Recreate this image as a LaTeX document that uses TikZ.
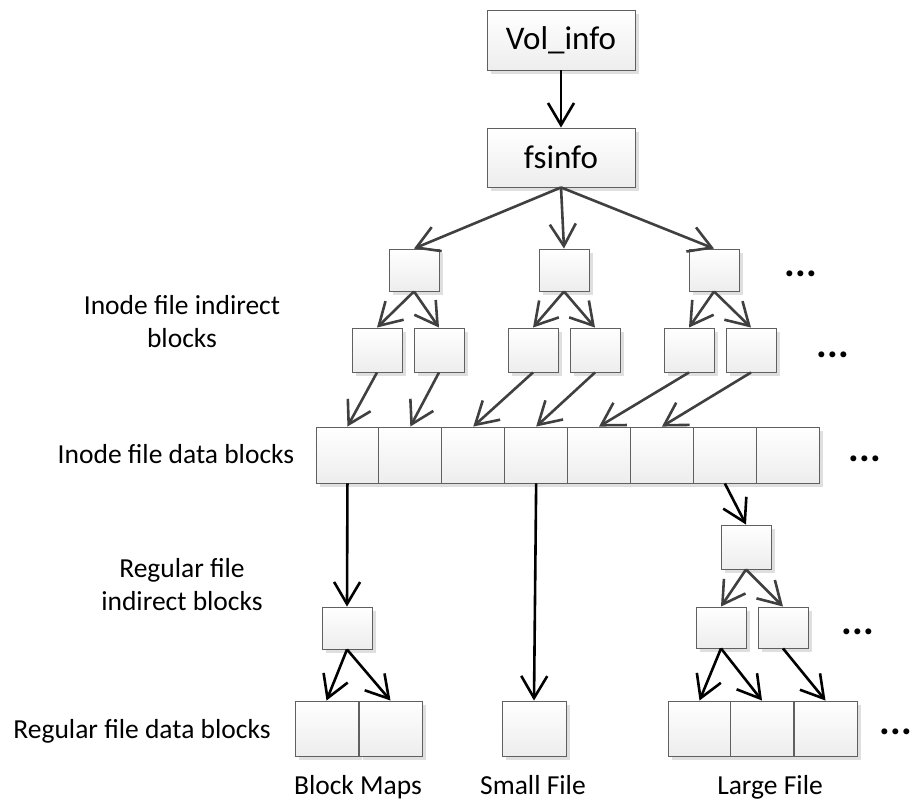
\documentclass[tikz,border=0pt]{standalone}
\usepackage{fontspec}
\setmainfont{Carlito}
\usetikzlibrary{arrows.meta,shadows}
\tikzset{
  blk/.style={draw=gray!75!black,line width=0.9pt,top color=white,bottom color=gray!14,inner sep=0pt,
    drop shadow={shadow xshift=4pt,shadow yshift=-4pt,fill=gray!25,opacity=1}},
  sblk/.style={blk,minimum width=50pt,minimum height=42pt},
  dblk/.style={blk,minimum width=63pt,minimum height=56pt},
  lnk/.style={-{Straight Barb[length=22pt,width=26pt]},line width=2.6pt,black!75},
  lnkb/.style={lnk,black},
  lbl/.style={font=\fontsize{27.5}{33}\selectfont,inner sep=0pt},
  dots/.style={font=\fontsize{40}{40}\selectfont\bfseries,inner sep=0pt}
}
\begin{document}
\begin{tikzpicture}[x=1pt,y=-1pt]
\useasboundingbox (0,0) rectangle (912,800);
\node[blk,minimum width=148pt,minimum height=60pt,font=\fontsize{33}{36}\selectfont] (vol) at (561,40) {Vol\_info};
\node[blk,minimum width=148pt,minimum height=59pt,font=\fontsize{33}{36}\selectfont] (fsinfo) at (561,157.5) {fsinfo};
\foreach \n/\px in {ia/414,ib/564,ic/714} \node[sblk] (\n) at (\px,270) {};
\foreach \n/\px in {iaa/377,iab/439,iba/533,ibb/595,ica/689,icb/751} \node[sblk,minimum height=44pt] (\n) at (\px,350) {};
\foreach \i in {1,...,8} \node[dblk,minimum width=62.9pt] (d\i) at ({347.45+62.9*(\i-1)},455) {};
\node[sblk] (rind) at (347,628) {};
\node[dblk,minimum height=55pt] (bm1) at (326.5,728.5) {};
\node[dblk,minimum height=55pt] (bm2) at (390.5,728.5) {};
\node[dblk,minimum width=64pt,minimum height=55pt] (sf) at (534,728.5) {};
\node[sblk,minimum height=44pt] (lf) at (746,547) {};
\node[sblk,minimum height=41pt] (lfa) at (721,627.5) {};
\node[sblk,minimum height=41pt] (lfb) at (783,627.5) {};
\foreach \i/\px in {1/699.5,2/762,3/825.5} \node[dblk,minimum height=55pt] (lf\i) at (\px,728.5) {};

\draw[lnkb] (vol) -- (fsinfo);
\foreach \n in {ia,ib,ic} \draw[lnk] (fsinfo.south) -- (\n.north);
\foreach \p/\c in {ia/iaa,ia/iab,ib/iba,ib/ibb,ic/ica,ic/icb} \draw[lnk] (\p.south) -- (\c.north);
\foreach \c/\d in {iaa/d1,iab/d2,iba/d3,ibb/d4,ica/d5,icb/d6} \draw[lnk] (\c.south) -- (\d.north);
\draw[lnkb] (d1.south) -- (rind.north);
\draw[lnkb] (rind.south) -- (bm1.north);
\draw[lnkb] (rind.south) -- (bm2.north);
\draw[lnkb] (d4.south) -- (sf.north);
\draw[lnkb] (d7.south) -- (lf.north);
\draw[lnk] (lf.south) -- (lfa.north);
\draw[lnk] (lf.south) -- (lfb.north);
\draw[lnkb] (lfa.south) -- (lf1.north);
\draw[lnkb] (lfa.south) -- (lf2.north);
\draw[lnkb] (lfb.south) -- (lf3.north);

\node[lbl,align=center] (tii) at (182,322) {Inode file indirect\\blocks};
\node[lbl,anchor=base] (tid) at (176,463) {Inode file data blocks};
\node[lbl,align=center] (tri) at (182,585) {Regular file\\indirect blocks};
\node[lbl,anchor=base] (trd) at (142,738) {Regular file data blocks};
\node[lbl,anchor=base] (tbm) at (358,794) {Block Maps};
\node[lbl,anchor=base] (tsf) at (533,794) {Small File};
\node[lbl,anchor=base] (tlf) at (770,794) {Large File};

\node[dots] (e1) at (801,274) {...};
\node[dots] (e2) at (833,355) {...};
\node[dots] (e3) at (865,459) {...};
\node[dots] (e4) at (858,632) {...};
\node[dots] (e5) at (896,732) {...};
\end{tikzpicture}
\end{document}
